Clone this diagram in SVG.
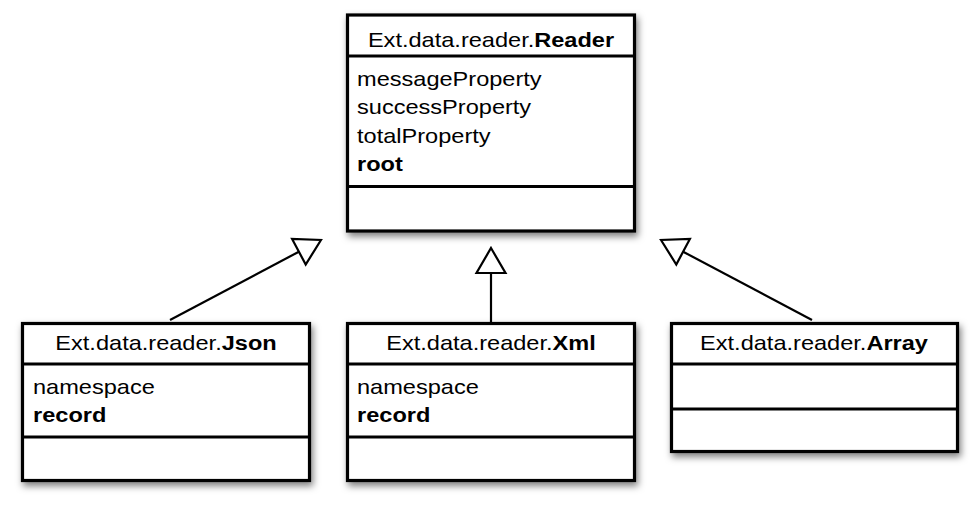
<svg xmlns="http://www.w3.org/2000/svg" width="980" height="510" viewBox="0 0 980 510">
<defs>
<filter id="sh" x="-10%" y="-10%" width="125%" height="130%">
<feDropShadow dx="2" dy="4" stdDeviation="3.5" flood-color="#000" flood-opacity="0.5"/>
</filter>
</defs>
<style>
.box{fill:#fff;stroke:#000;stroke-width:3.2;filter:url(#sh)}
.div{stroke:#000;stroke-width:3.2}
text{font-family:"Liberation Sans",Arial,Helvetica,sans-serif;font-size:20.5px;fill:#000}
.t{text-anchor:middle}
.b{font-weight:bold}
.conn line{stroke:#000;stroke-width:2.2}
.conn polygon{fill:#fff;stroke:#000;stroke-width:2.2;stroke-linejoin:miter}
</style>
<rect width="980" height="510" fill="#fff"/>
<g id="connectors" class="conn">
<line x1="170" y1="320" x2="298.9" y2="251.7"/>
<polygon points="321,240 305.7,264.5 292.1,238.9"/>
<line x1="491" y1="322" x2="491" y2="273"/>
<polygon points="491,248 505.5,273 476.5,273"/>
<line x1="812" y1="320" x2="683.1" y2="251.7"/>
<polygon points="661,240 676.3,264.5 689.9,238.9"/>
</g>
<g id="reader">
<rect class="box" x="347.5" y="15" width="287" height="216"/>
<line class="div" x1="347.5" y1="56" x2="634.5" y2="56"/>
<line class="div" x1="347.5" y1="186.5" x2="634.5" y2="186.5"/>
<text class="t" transform="translate(491 47) scale(1.15 1)">Ext.data.reader.<tspan class="b">Reader</tspan></text>
<text transform="translate(357 85.5) scale(1.15 1)">messageProperty</text>
<text transform="translate(357 114) scale(1.15 1)">successProperty</text>
<text transform="translate(357 142.5) scale(1.15 1)">totalProperty</text>
<text class="b" transform="translate(357 171) scale(1.15 1)">root</text>
</g>
<g id="json">
<rect class="box" x="22.5" y="323.5" width="287" height="157"/>
<line class="div" x1="22.5" y1="364" x2="309.5" y2="364"/>
<line class="div" x1="22.5" y1="437" x2="309.5" y2="437"/>
<text class="t" transform="translate(166 350) scale(1.15 1)">Ext.data.reader.<tspan class="b">Json</tspan></text>
<text transform="translate(33 394) scale(1.15 1)">namespace</text>
<text class="b" transform="translate(33 422) scale(1.15 1)">record</text>
</g>
<g id="xml">
<rect class="box" x="347.5" y="323.5" width="287" height="157"/>
<line class="div" x1="347.5" y1="364" x2="634.5" y2="364"/>
<line class="div" x1="347.5" y1="437" x2="634.5" y2="437"/>
<text class="t" transform="translate(491 350) scale(1.15 1)">Ext.data.reader.<tspan class="b">Xml</tspan></text>
<text transform="translate(357 394) scale(1.15 1)">namespace</text>
<text class="b" transform="translate(357 422) scale(1.15 1)">record</text>
</g>
<g id="array">
<rect class="box" x="671.5" y="323.5" width="286" height="128"/>
<line class="div" x1="671.5" y1="364" x2="957.5" y2="364"/>
<line class="div" x1="671.5" y1="409" x2="957.5" y2="409"/>
<text class="t" transform="translate(814 350) scale(1.15 1)">Ext.data.reader.<tspan class="b">Array</tspan></text>
</g>
</svg>
